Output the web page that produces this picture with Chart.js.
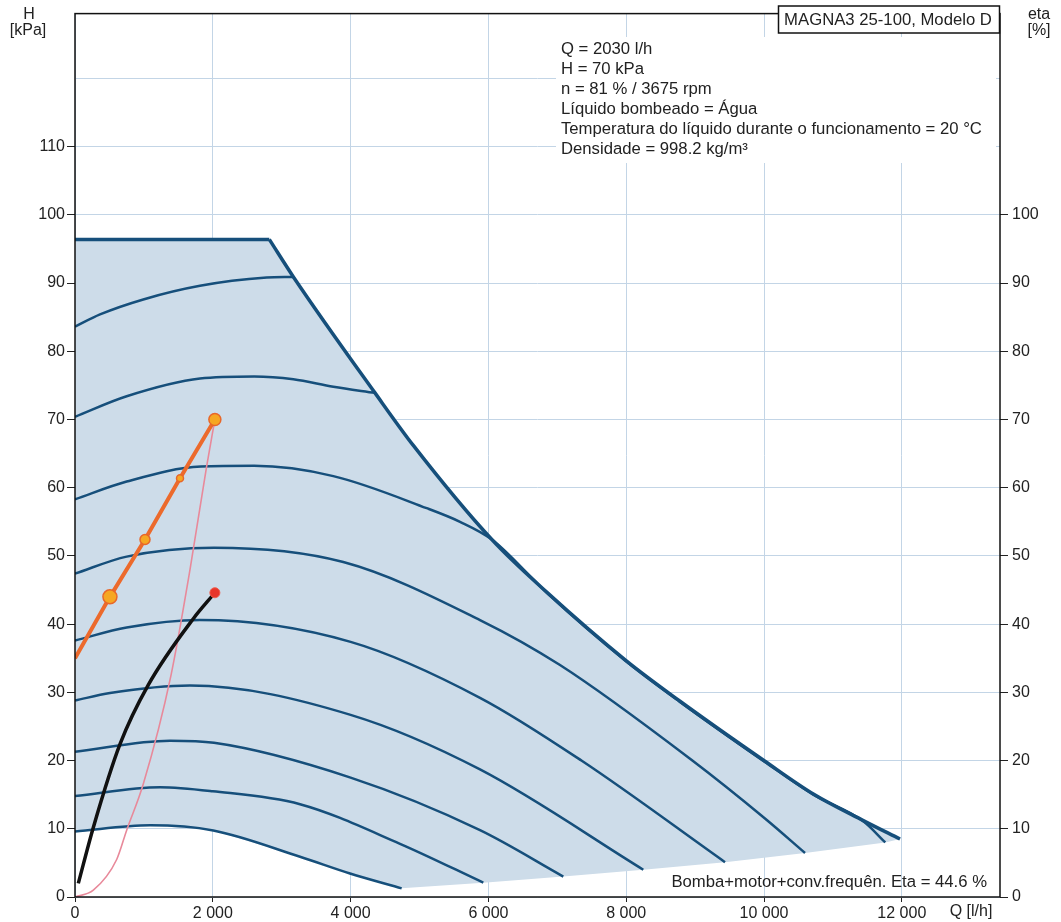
<!DOCTYPE html>
<html>
<head>
<meta charset="utf-8">
<script src="https://cdn.jsdelivr.net/npm/chart.js@4"></script>
<style>
  html, body { margin: 0; padding: 0; background: #fff; }
  #wrap { width: 1061px; height: 922px; }
</style>
</head>
<body>
<div id="wrap"><canvas id="pumpChart" width="1061" height="922"></canvas></div>
<script>
// MAGNA3 25-100 pump curves
// Q in l/h, H in kPa

// max curve (flat top + descending limit)
const envQ = [0, 2820, 3170, 4354, 4910, 6050, 6846, 7993, 8781, 10014, 10716, 11441, 11974];
const envH = [96.4, 96.4, 90.9, 73.9, 66.2, 52.4, 44.7, 34.7, 28.7, 19.9, 15.1, 11.2, 8.5];

// speed curves, highest to lowest
const s9Q = [0, 363, 991, 1814, 2782, 3169];
const s9H = [83.6, 85.4, 87.6, 89.6, 90.8, 90.9];
const s8Q = [0, 750, 1814, 2600, 3169, 3749, 4354];
const s8H = [70.4, 73.4, 76.0, 76.3, 75.9, 74.8, 73.9];
const s7Q = [0, 750, 1829, 2600, 3749, 5104, 5588, 6050, 6846, 7993, 8781, 10014, 10716, 11441, 11760];
const s7H = [58.3, 60.9, 63.1, 63.2, 61.7, 57.0, 55.0, 52.4, 44.6, 34.6, 28.6, 19.8, 15.0, 11.1, 8.0];
const s6Q = [0, 750, 2017, 3894, 5878, 7039, 8960, 10014, 10595];
const s6H = [47.4, 49.9, 51.2, 49.1, 40.6, 34.0, 20.0, 11.5, 6.45];
const s5Q = [0, 750, 1814, 4000, 5878, 7350, 9434];
const s5H = [37.6, 39.5, 40.6, 37.4, 29.2, 20.0, 5.1];
const s4Q = [0, 508, 1669, 4000, 5878, 8248];
const s4H = [28.8, 29.9, 31.0, 26.7, 18.7, 4.0];
const s3Q = [0, 1379, 2017, 4000, 5878, 7087];
const s3H = [21.3, 22.9, 22.6, 17.5, 9.8, 3.0];
const s2Q = [0, 1234, 2000, 3266, 4717, 5926];
const s2H = [14.8, 16.1, 15.5, 13.6, 7.8, 2.1];
const s1Q = [0, 1089, 2007, 3266, 3991, 4741];
const s1H = [9.6, 10.5, 9.75, 5.9, 3.45, 1.27];

// lower edge of the operating range (curve ends)
const lowQ = [4741, 5926, 7087, 8248, 9434, 10595, 11760, 11974];
const lowH = [1.27, 2.1, 3.0, 4.0, 5.1, 6.45, 8.0, 8.5];

// proportional pressure control curve
const ctrlQ = [0, 507, 1016, 1524, 2030];
const ctrlH = [35.0, 44.0, 52.4, 61.4, 70.0];

// system curve
const sysQ = [0, 266, 605, 750, 992, 1393, 1669, 1910, 2030];
const sysH = [0, 1.0, 5.5, 9.8, 16.6, 32.5, 48.0, 63.1, 70.0];

// efficiency (eta, %)
const etaQ = [48, 266, 653, 1064, 1717, 2030];
const etaH = [2.0, 10.2, 22.4, 31.1, 40.8, 44.6];

// tick values
const qTicks = [0, 2000, 4000, 6000, 8000, 10000, 12000];
const hTicks = [0, 10, 20, 30, 40, 50, 60, 70, 80, 90, 100, 110, 120];
const hLabelMax = 110;
const etaLabelMax = 100;

const infoLines = [
    'Q = 2030 l/h',
    'H = 70 kPa',
    'n = 81 % / 3675 rpm',
    'Líquido bombeado = Água',
    'Temperatura do líquido durante o funcionamento = 20 °C',
    'Densidade = 998.2 kg/m³'
];
const modelLabel = 'MAGNA3 25-100, Modelo D';
const etaNote = 'Bomba+motor+conv.frequên. Eta = 44.6 %';

const BLUE = '#164f7b';
const FILL = '#cddce9';
const GRID = '#c3d5e6';
const TEXT = '#222';
const FONT = '"Liberation Sans", Arial, sans-serif';

Chart.defaults.font.family = FONT;
Chart.defaults.font.size = 16;
Chart.defaults.color = TEXT;

const pts = (qs, hs) => qs.map((q, i) => ({ x: q, y: hs[i] }));
const fmtQ = v => String(v).replace(/\B(?=(\d{3})+(?!\d))/g, ' ');
const setTicks = vals => s => { s.ticks = vals.map(v => ({ value: v })); };

const rangePts = pts(envQ, envH).concat(pts(lowQ, lowH).reverse(), pts(s1Q, s1H).reverse());

const speedCurves = [[s9Q, s9H], [s8Q, s8H], [s7Q, s7H], [s6Q, s6H], [s5Q, s5H],
                     [s4Q, s4H], [s3Q, s3H], [s2Q, s2H], [s1Q, s1H]];

const datasets = [];

// eta curve with duty point
datasets.push({
    data: pts(etaQ, etaH),
    yAxisID: 'yEta',
    borderColor: '#111',
    borderWidth: 3.5,
    cubicInterpolationMode: 'monotone',
    pointRadius: etaQ.map((q, i) => i === etaQ.length - 1 ? 5 : 0),
    pointBackgroundColor: '#e8362b',
    pointBorderColor: '#f05a4a',
    pointBorderWidth: 1,
    order: 0
});

// control curve
datasets.push({
    data: pts(ctrlQ, ctrlH),
    borderColor: '#ec6a2c',
    borderWidth: 4,
    tension: 0,
    pointRadius: [0, 7, 5, 3.5, 6],
    pointBackgroundColor: '#f6a722',
    pointBorderColor: '#e8672a',
    pointBorderWidth: 1.5,
    order: 1
});

// system curve
datasets.push({
    data: pts(sysQ, sysH),
    borderColor: '#e8899a',
    borderWidth: 1.6,
    cubicInterpolationMode: 'monotone',
    pointRadius: 0,
    order: 2
});

// envelope: flat top and descending part
datasets.push({
    data: pts(envQ.slice(0, 2), envH.slice(0, 2)),
    borderColor: BLUE,
    borderWidth: 3.5,
    pointRadius: 0,
    order: 3
});
datasets.push({
    data: pts(envQ.slice(1), envH.slice(1)),
    borderColor: BLUE,
    borderWidth: 3.5,
    cubicInterpolationMode: 'monotone',
    pointRadius: 0,
    order: 3
});

speedCurves.forEach(([qs, hs]) => {
    datasets.push({
        data: pts(qs, hs),
        borderColor: BLUE,
        borderWidth: 2.5,
        cubicInterpolationMode: 'monotone',
        pointRadius: 0,
        order: 5
    });
});

// operating range area
datasets.push({
    data: rangePts,
    borderWidth: 0,
    borderColor: 'rgba(0,0,0,0)',
    backgroundColor: FILL,
    fill: 'shape',
    tension: 0,
    pointRadius: 0,
    order: 10
});

const decorations = {
    id: 'decorations',
    beforeDatasetsDraw(chart) {
        const ctx = chart.ctx;
        ctx.save();
        // white panel behind info text
        ctx.fillStyle = '#fff';
        ctx.fillRect(556, 37, 440, 126);
        ctx.restore();
    },
    afterDraw(chart) {
        const ctx = chart.ctx;
        const a = chart.chartArea;
        ctx.save();

        // frame
        ctx.strokeStyle = '#111';
        ctx.lineWidth = 1.5;
        ctx.strokeRect(a.left, a.top, a.right - a.left, a.bottom - a.top);

        // model box
        ctx.fillStyle = '#fff';
        ctx.fillRect(778.5, 6, 221, 27);
        ctx.strokeRect(778.5, 6, 221, 27);

        ctx.fillStyle = TEXT;
        ctx.font = '16.7px ' + FONT;
        ctx.textBaseline = 'middle';
        ctx.textAlign = 'center';
        ctx.fillText(modelLabel, 888, 20);

        // info lines
        ctx.textAlign = 'left';
        infoLines.forEach((line, i) => {
            ctx.fillText(line, 561, 49 + i * 20);
        });

        // eta note
        ctx.textAlign = 'right';
        ctx.fillText(etaNote, 987, 882);

        // axis titles
        ctx.font = '16px ' + FONT;
        ctx.textAlign = 'center';
        ctx.fillText('H', 29, 15);
        ctx.fillText('[kPa]', 28, 31);
        ctx.fillText('eta', 1039, 15);
        ctx.fillText('[%]', 1039, 31);
        ctx.fillText('Q [l/h]', 971, 912);
        ctx.restore();
    }
};

new Chart(document.getElementById('pumpChart'), {
    type: 'line',
    data: { datasets },
    options: {
        responsive: false,
        animation: false,
        devicePixelRatio: 1,
        layout: { padding: { top: 7, left: 0, right: 0, bottom: 0 } },
        plugins: {
            legend: { display: false },
            tooltip: { enabled: false },
            title: { display: false }
        },
        scales: {
            x: {
                type: 'linear',
                position: 'bottom',
                min: 0,
                max: 13425,
                afterBuildTicks: setTicks(qTicks),
                ticks: {
                    autoSkip: false,
                    maxRotation: 0,
                    padding: 2,
                    callback: v => fmtQ(v)
                },
                grid: { color: GRID, lineWidth: 1, tickLength: 5, tickColor: '#222' },
                border: { display: false },
                afterFit: s => { s.height = 25; }
            },
            y: {
                type: 'linear',
                position: 'left',
                min: 0,
                max: 129.5,
                afterBuildTicks: setTicks(hTicks),
                ticks: {
                    autoSkip: false,
                    padding: 2,
                    callback: v => v <= hLabelMax ? v : ''
                },
                grid: {
                    color: GRID,
                    lineWidth: 1,
                    tickLength: 8,
                    tickColor: c => (c.tick && c.tick.value > hLabelMax) ? 'rgba(0,0,0,0)' : '#222'
                },
                border: { display: false },
                afterFit: s => { s.width = 75; }
            },
            yEta: {
                type: 'linear',
                position: 'right',
                min: 0,
                max: 129.5,
                afterBuildTicks: setTicks(hTicks),
                ticks: {
                    autoSkip: false,
                    padding: 4,
                    callback: v => v <= etaLabelMax ? v : ''
                },
                grid: {
                    drawOnChartArea: false,
                    tickLength: 8,
                    tickColor: c => (c.tick && c.tick.value > etaLabelMax) ? 'rgba(0,0,0,0)' : '#222'
                },
                border: { display: false },
                afterFit: s => { s.width = 61; }
            }
        }
    },
    plugins: [decorations]
});
</script>
</body>
</html>
